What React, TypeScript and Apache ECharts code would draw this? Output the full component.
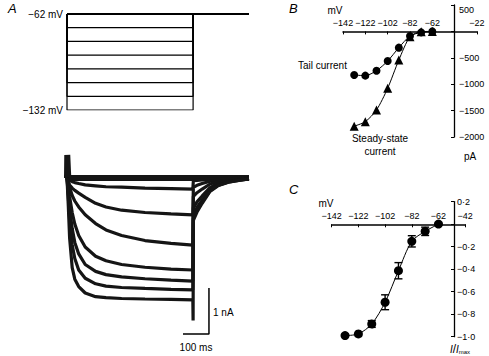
import React, { useEffect, useRef } from 'react';
import * as echarts from 'echarts';

// ---------- Panel A: voltage protocol ----------
const stepLevels = [-62, -72, -82, -92, -102, -112, -122, -132];
const holdLevel = -62;
const stepOnMs = 0;
const stepOffMs = 485;
const sweepEndMs = 700;

// ---------- Panel A: current traces (nA) ----------
const traceTimes = [0, 1, 5, 10, 20, 30, 45, 70, 110, 150, 210, 300, 400, 484, 485, 486, 500, 520, 550, 580, 620, 660, 700];
const trace62 = [0, 0.5, 0, 0, 0, 0, 0, 0, 0, 0, 0, 0, 0, 0, 0, 0, 0, 0, 0, 0, 0, 0, 0];
const trace72 = [0, 0, -0.03, -0.05, -0.08, -0.1, -0.12, -0.15, -0.17, -0.19, -0.2, -0.22, -0.23, -0.24, -0.24, -0.06, -0.05, -0.04, -0.03, -0.02, -0.01, 0, 0];
const trace82 = [0, 0, -0.08, -0.15, -0.22, -0.27, -0.33, -0.42, -0.55, -0.63, -0.7, -0.75, -0.78, -0.8, -0.8, -0.2, -0.16, -0.12, -0.07, -0.04, -0.02, -0.01, 0];
const trace92 = [0, 0, -0.1, -0.2, -0.38, -0.5, -0.63, -0.8, -0.99, -1.13, -1.25, -1.36, -1.42, -1.46, -1.46, -0.4, -0.32, -0.24, -0.13, -0.08, -0.04, -0.02, -0.01];
const trace102 = [0, 0, -0.2, -0.4, -0.75, -1.0, -1.25, -1.5, -1.7, -1.8, -1.88, -1.94, -1.98, -2.0, -2.0, -0.65, -0.52, -0.39, -0.21, -0.12, -0.06, -0.03, -0.01];
const trace112 = [0, 0, -0.3, -0.65, -1.1, -1.4, -1.65, -1.88, -2.03, -2.1, -2.15, -2.19, -2.22, -2.24, -2.24, -0.8, -0.64, -0.48, -0.25, -0.15, -0.08, -0.04, -0.02];
const trace122 = [0, 0, -0.4, -0.9, -1.45, -1.75, -2.0, -2.18, -2.3, -2.35, -2.38, -2.4, -2.42, -2.43, -2.43, -0.88, -0.7, -0.52, -0.28, -0.16, -0.09, -0.05, -0.02];
const trace132 = [0, 0, -0.6, -1.3, -1.95, -2.2, -2.36, -2.5, -2.58, -2.6, -2.62, -2.63, -2.64, -2.65, -3.1, -0.92, -0.74, -0.55, -0.29, -0.17, -0.09, -0.05, -0.02];
const traces = [trace62, trace72, trace82, trace92, trace102, trace112, trace122, trace132];

// scale bar: 100 ms, 1 nA, corner at (546 ms, -3.39 nA)
const scaleBarTime = [446, 546, 546];
const scaleBarCurrent = [-3.39, -3.39, -2.39];

// ---------- Panel B ----------
const bVoltage = [-132, -122, -112, -102, -92, -82, -72, -62];
const tailCurrent = [-826, -838, -744, -561, -308, -87, -18, 0];
const steadyCurrent = [-1795, -1710, -1489, -1078, -542, -100, -6, 0];

// ---------- Panel C ----------
const cVoltage = [-132, -122, -112, -102, -92, -82, -72, -62];
const normTail = [-0.99, -0.975, -0.887, -0.694, -0.414, -0.153, -0.064, 0];
const normErr = [0, 0, 0.03, 0.066, 0.072, 0.05, 0.037, 0];

const FONT = '"Liberation Sans", Arial, Helvetica, sans-serif';
const FS = 10;
const TICK_FS = 9;
const minus = (s: string) => s.replace(/-/g, '\u2212');

export default function App() {
  const ref = useRef<HTMLDivElement>(null);
  useEffect(() => {
    if (!ref.current) return;
    const chart = echarts.init(ref.current, undefined, { renderer: 'svg' });

    const axisText = { color: '#000', fontFamily: FONT, fontSize: TICK_FS };
    const black = '#000';

    const protocolSeries = stepLevels.map((v) => ({
      type: 'line',
      xAxisIndex: 0,
      yAxisIndex: 0,
      showSymbol: false,
      silent: true,
      lineStyle: { color: black, width: v === holdLevel ? 2 : 1.2 },
      data:
        v === holdLevel
          ? [[stepOnMs, holdLevel], [sweepEndMs, holdLevel]]
          : [[stepOnMs, holdLevel], [stepOnMs, v], [stepOffMs, v], [stepOffMs, holdLevel], [sweepEndMs, holdLevel]],
    }));

    const traceSeries = traces.map((tr, i) => ({
      type: 'line',
      xAxisIndex: 1,
      yAxisIndex: 1,
      showSymbol: false,
      silent: true,
      lineStyle: { color: '#151515', width: i === 0 ? 6 : 3.2 },
      data: traceTimes.map((t, j) => [t, tr[j]]),
    }));

    const hiddenX = (gridIndex: number, min: number, max: number) => ({ gridIndex, type: 'value', min, max, show: false });
    const hiddenY = (gridIndex: number, min: number, max: number) => ({ gridIndex, type: 'value', min, max, show: false });

    const textEl = (x: number, y: number, text: string, align = 'left', font = `${FS}px ${FONT}`) => ({
      type: 'text', x, y,
      style: { text, font, fill: black, textAlign: align, align, textVerticalAlign: 'middle', verticalAlign: 'middle' },
    });

    const option: any = {
      animation: false,
      textStyle: { fontFamily: FONT },
      grid: [
        { left: 67, top: 14, width: 182, height: 96, outerBoundsMode: 'none' },
        { left: 67, top: 141.2, width: 182, height: 197.8, outerBoundsMode: 'none' },
        { left: 343, top: 5, width: 134, height: 132, outerBoundsMode: 'none' },
        { left: 331.7, top: 201.6, width: 133.5, height: 135.1, outerBoundsMode: 'none' },
        // axis-only grids placed where the voltage axes cross zero current
        { left: 343, top: 31.4, width: 134, height: 10, outerBoundsMode: 'none' },
        { left: 331.7, top: 224.3, width: 133.5, height: 10, outerBoundsMode: 'none' },
      ],
      xAxis: [
        hiddenX(0, 0, sweepEndMs),
        hiddenX(1, 0, sweepEndMs),
        hiddenX(2, -142, -22),
        hiddenX(3, -142, -42),
        {
          gridIndex: 4, type: 'value', min: -142, max: -22, interval: 20, position: 'top',
          axisLine: { onZero: false, lineStyle: { color: black, width: 1.5 } },
          axisTick: { inside: true, length: 3, lineStyle: { color: black } },
          splitLine: { show: false },
          axisLabel: { ...axisText, margin: 4, formatter: (v: number) => (v === -42 ? '' : minus(String(v))) },
        },
        {
          gridIndex: 5, type: 'value', min: -142, max: -42, interval: 20, position: 'top',
          axisLine: { onZero: false, lineStyle: { color: black, width: 1.5 } },
          axisTick: { inside: true, length: 3, lineStyle: { color: black } },
          splitLine: { show: false },
          axisLabel: { ...axisText, margin: 4, formatter: (v: number) => minus(String(v)) },
        },
      ],
      yAxis: [
        {
          gridIndex: 0, type: 'value', min: -132, max: -62, interval: 70,
          axisLine: { show: false }, axisTick: { show: false }, splitLine: { show: false },
          axisLabel: { ...axisText, fontSize: FS, margin: 4, formatter: (v: number) => minus(String(v)) + ' mV' },
        },
        hiddenY(1, -3.5, 0.8),
        {
          gridIndex: 2, type: 'value', min: -2000, max: 500, interval: 500, position: 'right', offset: -23,
          axisLine: { onZero: false, lineStyle: { color: black, width: 1.3 } },
          axisTick: { inside: true, length: 3, lineStyle: { color: black } },
          splitLine: { show: false },
          axisLabel: {
            ...axisText, margin: 5,
            formatter: (v: number) => (v === 0 ? '' : v === 500 ? '{t|500}' : minus(String(v))),
            rich: { t: { ...axisText, padding: [10, 0, 0, 0] } },
          },
        },
        {
          gridIndex: 3, type: 'value', min: -1.0, max: 0.2, interval: 0.2, position: 'right', offset: -11.2,
          axisLine: { onZero: false, lineStyle: { color: black, width: 1.3 } },
          axisTick: { inside: true, length: 3, lineStyle: { color: black } },
          splitLine: { show: false },
          axisLabel: {
            ...axisText, margin: 3,
            formatter: (v: number) => (Math.abs(v) < 1e-9 ? '' : minus(v.toFixed(1).replace('.', '\u00b7'))),
          },
        },
        hiddenY(4, 0, 1),
        hiddenY(5, 0, 1),
      ],
      series: [
        ...protocolSeries,
        ...traceSeries,
        {
          type: 'line', xAxisIndex: 1, yAxisIndex: 1, showSymbol: false, silent: true,
          lineStyle: { color: black, width: 1.5 },
          data: scaleBarTime.map((t, i) => [t, scaleBarCurrent[i]]),
        },
        {
          name: 'Tail current', type: 'line', xAxisIndex: 2, yAxisIndex: 2, smooth: 0.25,
          symbol: 'circle', symbolSize: 8, itemStyle: { color: black },
          lineStyle: { color: black, width: 1 },
          data: bVoltage.map((v, i) => [v, tailCurrent[i]]),
        },
        {
          name: 'Steady-state current', type: 'line', xAxisIndex: 2, yAxisIndex: 2, smooth: 0.25,
          symbol: 'triangle', symbolSize: 9, itemStyle: { color: black },
          lineStyle: { color: black, width: 1 },
          data: bVoltage.map((v, i) => [v, steadyCurrent[i]]),
        },
        {
          type: 'custom', xAxisIndex: 3, yAxisIndex: 3, silent: true,
          data: cVoltage.map((v, i) => [v, normTail[i], normErr[i]]),
          renderItem: (params: any, api: any) => {
            const x = api.value(0), y = api.value(1), e = api.value(2);
            if (!e) return { type: 'group', children: [] };
            const top = api.coord([x, y + e]);
            const bot = api.coord([x, y - e]);
            const w = 4;
            const st = { stroke: black, lineWidth: 1.4 };
            return {
              type: 'group',
              children: [
                { type: 'line', shape: { x1: top[0], y1: top[1], x2: bot[0], y2: bot[1] }, style: st },
                { type: 'line', shape: { x1: top[0] - w, y1: top[1], x2: top[0] + w, y2: top[1] }, style: st },
                { type: 'line', shape: { x1: bot[0] - w, y1: bot[1], x2: bot[0] + w, y2: bot[1] }, style: st },
              ],
            };
          },
        },
        {
          type: 'line', xAxisIndex: 3, yAxisIndex: 3, smooth: 0.3,
          symbol: 'circle', symbolSize: 9, itemStyle: { color: black },
          lineStyle: { color: black, width: 1 },
          data: cVoltage.map((v, i) => [v, normTail[i]]),
        },
      ],
      graphic: [
        textEl(8, 8, 'A', 'left', `italic 13px ${FONT}`),
        textEl(289, 8, 'B', 'left', `italic 13px ${FONT}`),
        textEl(289, 189, 'C', 'left', `italic 13px ${FONT}`),
        textEl(335, 10, 'mV', 'center'),
        textEl(326, 203, 'mV', 'center'),
        textEl(470, 156, 'pA', 'center'),
        textEl(298, 65, 'Tail current'),
        textEl(380, 138, 'Steady-state', 'center'),
        textEl(380, 151, 'current', 'center'),
        textEl(213, 312, '1 nA'),
        textEl(196, 347, '100 ms', 'center'),
        {
          type: 'text', x: 460, y: 349,
          style: {
            text: '{i|I}/{i|I}{s|max}',
            rich: {
              i: { font: `italic ${FS}px ${FONT}`, fill: black, color: black },
              s: { font: `6px ${FONT}`, fill: black, color: black, padding: [5, 0, 0, 0] },
            },
            textAlign: 'center', align: 'center', textVerticalAlign: 'middle', verticalAlign: 'middle',
          },
        },
      ],
    };

    chart.setOption(option);
    return () => chart.dispose();
  }, []);

  return <div ref={ref} style={{ position: 'absolute', left: 0, top: 0, width: 489, height: 356 }} />;
}
